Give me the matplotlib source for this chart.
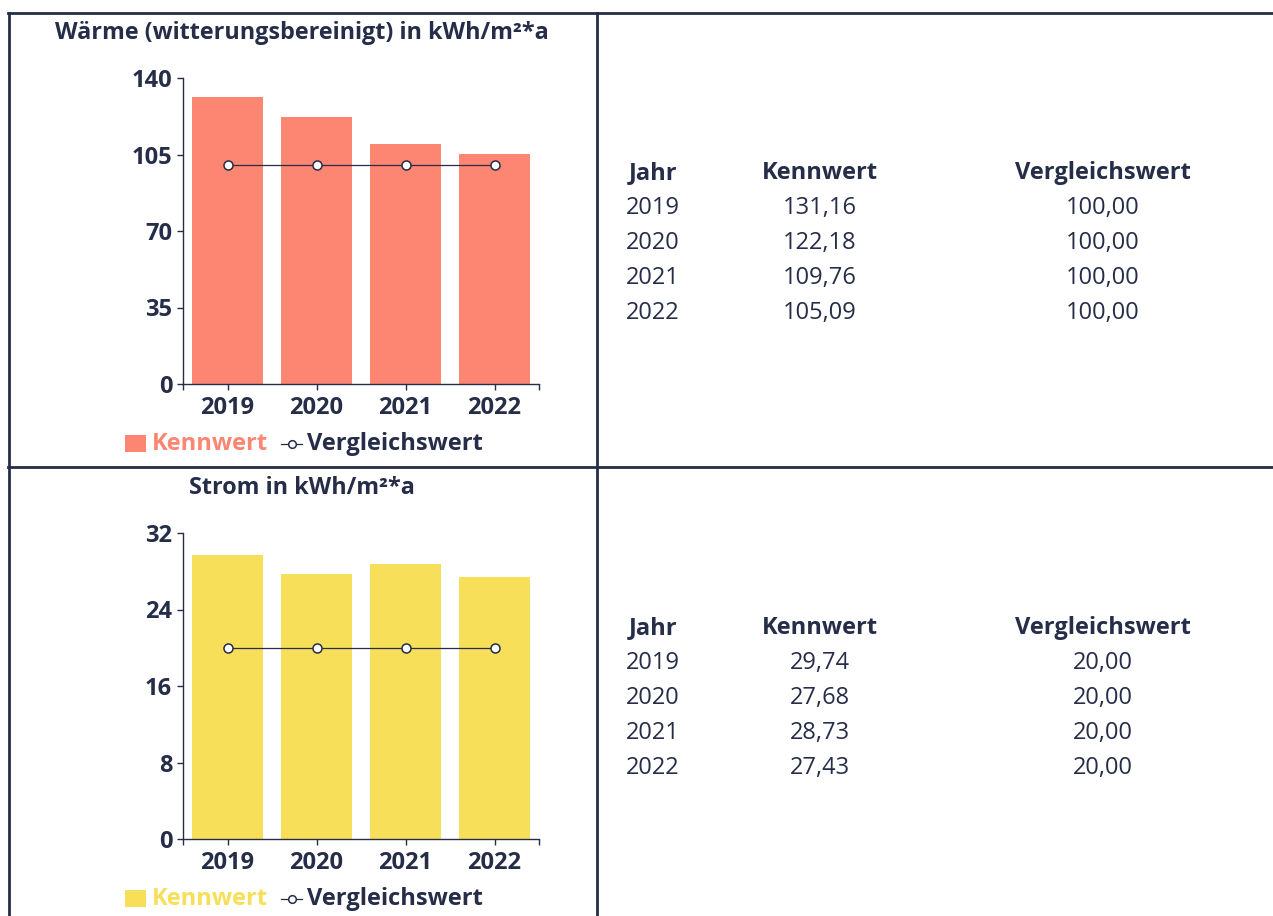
import matplotlib
matplotlib.use("Agg")
import matplotlib.pyplot as plt
from matplotlib.lines import Line2D
from matplotlib.patches import Rectangle

# ---------------- data ----------------
years = ["2019", "2020", "2021", "2022"]
waerme_kennwert = [131.16, 122.18, 109.76, 105.09]
waerme_vergleich = [100.00, 100.00, 100.00, 100.00]
strom_kennwert = [29.74, 27.68, 28.73, 27.43]
strom_vergleich = [20.00, 20.00, 20.00, 20.00]
waerme_ticks = [0, 35, 70, 105, 140]
strom_ticks = [0, 8, 16, 24, 32]
waerme_title = "Wärme (witterungsbereinigt) in kWh/m²*a"
strom_title = "Strom in kWh/m²*a"
series_names = ["Kennwert", "Vergleichswert"]
table_header = ["Jahr", "Kennwert", "Vergleichswert"]

# ---------------- style ----------------
plt.rcParams['font.family'] = ['Open Sans', 'DejaVu Sans']
DARK = "#252d48"
SALMON = "#fd8672"
YELLOW = "#f7df59"
W, H = 1273, 916
DPI = 100
FS = 17

fig = plt.figure(figsize=(W / DPI, H / DPI), dpi=DPI)
fig.patch.set_facecolor("white")


def fx(px):
    return px / W


def fy(py):
    return 1 - py / H


def fmt(v):
    return f"{v:.2f}".replace(".", ",")


def draw_panel(top_px, title, kenn, verg, ticks, color, table_top):
    bottom_px = top_px + 306
    ax = fig.add_axes([fx(183), fy(bottom_px), 356 / W, 306 / H])
    x = list(range(len(years)))
    ax.bar(x, kenn, width=0.8, color=color, linewidth=0, zorder=1)
    ax.plot(x, verg, color=DARK, linewidth=0.9, marker="o", markersize=6.5,
            markerfacecolor="white", markeredgecolor=DARK, markeredgewidth=1.1,
            zorder=3)
    ax.set_xlim(-0.5, len(years) - 0.5)
    ax.set_ylim(ticks[0], ticks[-1])
    ax.set_yticks(ticks)
    ax.set_xticks(x)
    ax.set_xticklabels(years)
    ax.set_xticks([-0.5, len(years) - 0.5], minor=True)
    for s in ["top", "right"]:
        ax.spines[s].set_visible(False)
    for s in ["left", "bottom"]:
        ax.spines[s].set_color(DARK)
        ax.spines[s].set_linewidth(1.0)
    ax.tick_params(axis="both", which="major", colors=DARK, length=4.3,
                   width=1.0, labelsize=FS)
    ax.tick_params(axis="x", which="minor", colors=DARK, length=4.3, width=1.0)
    ax.tick_params(axis="y", pad=3.5)
    ax.tick_params(axis="x", pad=4.0)
    for lab in ax.get_xticklabels() + ax.get_yticklabels():
        lab.set_fontweight("bold")
    ax.patch.set_alpha(0)

    # title
    fig.text(fx(302), fy(top_px - 45), title, ha="center", va="center",
             fontsize=16.8, fontweight="bold", color=DARK)

    # legend
    ly = bottom_px + 60
    fig.add_artist(Rectangle((fx(125), fy(ly + 8)), 21 / W, 17 / H,
                             transform=fig.transFigure, color=color, lw=0))
    fig.text(fx(152), fy(ly), series_names[0], ha="left", va="center",
             fontsize=FS, fontweight="bold", color=color)
    fig.add_artist(Line2D([fx(281), fx(302)], [fy(ly), fy(ly)],
                          transform=fig.transFigure, color=DARK, lw=0.9))
    fig.add_artist(Line2D([fx(291.5)], [fy(ly)], transform=fig.transFigure,
                          marker="o", markersize=5.5, markerfacecolor="white",
                          markeredgecolor=DARK, markeredgewidth=1.1, lw=0))
    fig.text(fx(307), fy(ly), series_names[1], ha="left", va="center",
             fontsize=FS, fontweight="bold", color=DARK)

    # table
    cols = [653, 820, 1103]
    for cx, h in zip(cols, table_header):
        fig.text(fx(cx), fy(table_top), h, ha="center", va="center",
                 fontsize=FS, fontweight="bold", color=DARK)
    for i, yr in enumerate(years):
        ry = table_top + 35 * (i + 1)
        row = [yr, fmt(kenn[i]), fmt(verg[i])]
        for cx, t in zip(cols, row):
            fig.text(fx(cx), fy(ry), t, ha="center", va="center",
                     fontsize=FS, color=DARK)


draw_panel(78, waerme_title, waerme_kennwert, waerme_vergleich, waerme_ticks,
           SALMON, 173)
draw_panel(533, strom_title, strom_kennwert, strom_vergleich, strom_ticks,
           YELLOW, 628)

# grid lines of the layout table
LW = 2.0
fig.add_artist(Line2D([fx(8), fx(1273)], [fy(13), fy(13)],
                      transform=fig.transFigure, color=DARK, lw=LW))
fig.add_artist(Line2D([fx(8), fx(1273)], [fy(466.5), fy(466.5)],
                      transform=fig.transFigure, color=DARK, lw=LW))
fig.add_artist(Line2D([fx(9), fx(9)], [fy(13), fy(916)],
                      transform=fig.transFigure, color=DARK, lw=LW))
fig.add_artist(Line2D([fx(597), fx(597)], [fy(13), fy(916)],
                      transform=fig.transFigure, color=DARK, lw=LW))

fig.savefig("out.png", dpi=DPI)
